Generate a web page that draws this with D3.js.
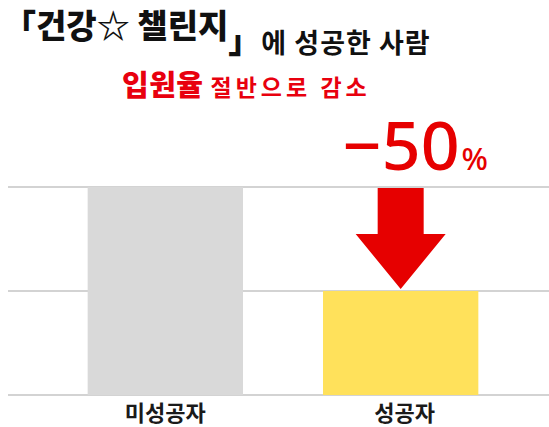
<!DOCTYPE html>
<html>
<head>
<meta charset="utf-8">
<script src="https://cdn.jsdelivr.net/npm/d3@7"></script>
<style>
  body { margin: 0; background: #fff; }
  svg text { font-family: "Noto Sans CJK KR", "Noto Sans", sans-serif; }
</style>
</head>
<body>
<svg id="chart" width="549" height="427"></svg>
<script>
// data
var categories = ["미성공자", "성공자"]
var values = [100, 50]
var gridTicks = [0, 50, 100]
var barColors = ["#d9d9d9", "#ffe15b"]
var changeLabel = "−50"

var dimensions = {
  width: 549,
  height: 427,
  top: 187,
  bottom: 395
}

var svg = d3.select("#chart")

var xScale = d3.scaleBand()
  .domain(categories)
  .range([10, 556])
  .paddingInner(0.34)
  .paddingOuter(0.33)

var yScale = d3.scaleLinear()
  .domain([0, 100])
  .range([dimensions.bottom, dimensions.top])

// grid lines
svg.append("g")
  .selectAll("line")
  .data(gridTicks)
  .enter()
  .append("line")
  .attr("x1", 8)
  .attr("x2", dimensions.width)
  .attr("y1", d => yScale(d))
  .attr("y2", d => yScale(d))
  .attr("stroke", "#c4c4c4")
  .attr("stroke-width", 1.5)

// bars
svg.append("g")
  .selectAll("rect")
  .data(values)
  .enter()
  .append("rect")
  .attr("x", (d, i) => xScale(categories[i]))
  .attr("y", d => yScale(d))
  .attr("width", xScale.bandwidth())
  .attr("height", d => yScale(0) - yScale(d))
  .attr("fill", (d, i) => barColors[i])

// category labels
svg.append("g")
  .selectAll("text")
  .data(categories)
  .enter()
  .append("text")
  .attr("x", d => xScale(d) + xScale.bandwidth() / 2 + (d == "성공자" ? 4 : 0))
  .attr("y", 421)
  .attr("text-anchor", "middle")
  .attr("font-size", 22)
  .attr("font-weight", "bold")
  .attr("fill", "#1a1a1a")
  .text(d => d)

// arrow from the first value down to the second
var cx = xScale(categories[1]) + xScale.bandwidth() / 2
var yTop = yScale(values[0]) + 1
var yTip = yScale(values[1]) - 2
var headH = 55
var shaftW = 23, headW = 45
var arrowPath = d3.path()
arrowPath.moveTo(cx - shaftW, yTop)
arrowPath.lineTo(cx + shaftW, yTop)
arrowPath.lineTo(cx + shaftW, yTip - headH)
arrowPath.lineTo(cx + headW, yTip - headH)
arrowPath.lineTo(cx, yTip)
arrowPath.lineTo(cx - headW, yTip - headH)
arrowPath.lineTo(cx - shaftW, yTip - headH)
arrowPath.closePath()
svg.append("path")
  .attr("d", arrowPath.toString())
  .attr("fill", "#e60000")

var pct = svg.append("text")
  .attr("x", cx - 58)
  .attr("y", 170)
  .attr("fill", "#e60000")
pct.append("tspan")
  .attr("font-size", 68)
  .attr("font-weight", 500)
  .attr("font-family", "'Noto Sans', sans-serif")
  .text(changeLabel)
pct.append("tspan")
  .attr("font-size", 31)
  .attr("font-weight", 500)
  .attr("font-family", "'Noto Sans', sans-serif")
  .attr("dx", 2)
  .text("%")

// titles
var title = svg.append("text")
  .attr("x", 3)
  .attr("y", 38)
  .attr("fill", "#111")
title.append("tspan")
  .attr("font-size", 33)
  .attr("font-weight", 900)
  .text("「건강☆ 챌린지")
title.append("tspan")
  .attr("font-size", 33)
  .attr("font-weight", 900)
  .attr("dy", 15)
  .text("」")
title.append("tspan")
  .attr("font-size", 27)
  .attr("font-weight", "bold")
  .attr("letter-spacing", 1)
  .text("에 성공한 사람")

var sub = svg.append("text")
  .attr("x", 122)
  .attr("y", 96)
  .attr("fill", "#e8000e")
  .attr("font-weight", "bold")
sub.append("tspan")
  .attr("font-size", 29)
  .attr("font-weight", 900)
  .attr("letter-spacing", 0.5)
  .text("입원율")
sub.append("tspan")
  .attr("font-size", 23)
  .attr("dx", 7)
  .attr("letter-spacing", 4)
  .text("절반으로 감소")
</script>
</body>
</html>
